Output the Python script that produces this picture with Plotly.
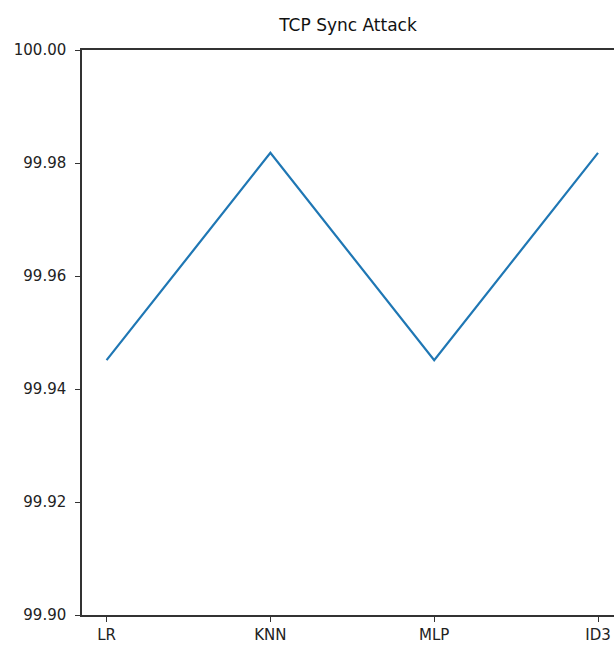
import plotly.graph_objects as go

models = ["LR", "KNN", "MLP", "ID3"]
accuracy = [99.9451, 99.9818, 99.9451, 99.9818]
y_ticks = [99.90, 99.92, 99.94, 99.96, 99.98, 100.00]

FONT = "DejaVu Sans, sans-serif"

fig = go.Figure()
fig.add_trace(go.Scatter(x=list(range(len(models))), y=accuracy, mode="lines",
                         line=dict(color="#1f77b4", width=2.2), showlegend=False))

fig.update_layout(
    width=614, height=657,
    margin=dict(l=82, r=0, t=50, b=42, autoexpand=False),
    plot_bgcolor="white", paper_bgcolor="white",
    font=dict(family=FONT, size=15, color="#222"),
    title=dict(text="TCP Sync Attack", x=0.5, xref="paper", xanchor="center",
               y=1 - 25 / 657, yanchor="middle", font=dict(size=17, family=FONT, color="#111")),
)
fig.update_xaxes(
    range=[-0.15, 3.0976], tickmode="array", tickvals=list(range(len(models))),
    ticktext=models, showgrid=False, zeroline=False, showline=True,
    linecolor="#333", linewidth=1.5, mirror=True, ticks="outside", ticklen=5,
    tickcolor="#333", tickfont=dict(size=15, family=FONT),
)
fig.update_yaxes(
    range=[99.90, 100.00], tickmode="array", tickvals=y_ticks,
    ticktext=[f"{v:.2f}" for v in y_ticks], showgrid=False, zeroline=False,
    showline=True, linecolor="#333", linewidth=1.5, ticks="outside", ticklen=5,
    tickcolor="#333", tickfont=dict(size=15, family=FONT), ticklabelstandoff=6,
)

fig.write_html("out.html", config={"displayModeBar": False},
               post_script="document.body.style.margin='0';document.body.style.overflow='hidden';")
